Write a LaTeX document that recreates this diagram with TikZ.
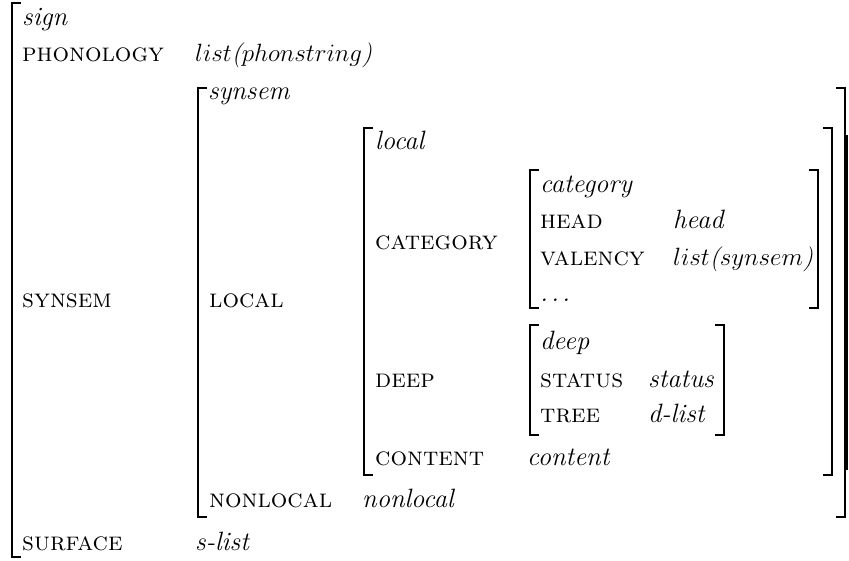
\RequirePackage{fix-cm}
\documentclass[tikz,border=0pt]{standalone}
\tikzset{
  attr/.style={anchor=base west, inner sep=0pt, font=\fontsize{26}{30}\selectfont\scshape},
  val/.style={anchor=base west, inner sep=0pt, font=\fontsize{26.5}{30}\selectfont\itshape},
  brk/.style={line width=2.4pt, line cap=butt, line join=miter},
}
\newcommand\LBrk[3]{\draw[brk] (#1+9,#2) -- (#1,#2) -- (#1,#3) -- (#1+9,#3);}
\newcommand\RBrk[3]{\draw[brk] (#1-9,#2) -- (#1,#2) -- (#1,#3) -- (#1-9,#3);}
\newcommand\listof[1]{\fontsize{25}{30}\selectfont$list$($#1$)}
\begin{document}
\begin{tikzpicture}[x=1pt,y=-1pt]
\useasboundingbox (0,0) rectangle (849,561);
% brackets
\LBrk{12}{3}{557}
\LBrk{198}{88}{517}
\RBrk{845}{88}{517}
\LBrk{364}{128}{475}
\RBrk{832}{128}{475}
\LBrk{530}{170}{308}
\RBrk{818}{170}{308}
\LBrk{530}{325}{435}
\RBrk{724}{325}{435}
\draw[brk] (847,135) -- (847,470);
% texts
\node[val] (sign) at (22,26) {sign};
\node[attr] (phon) at (22,62) {phonology};
\node[val] (phonv) at (195,62) {\listof{phonstring}};
\node[val] (synsemt) at (208,100) {synsem};
\node[val] (localt) at (375,150) {local};
\node[val] (catt) at (540,193) {category};
\node[attr] (head) at (540,229) {head};
\node[val] (headv) at (673,229) {head};
\node[attr] (valency) at (540,266) {valency};
\node[val] (valv) at (673,266) {\listof{synsem}};
\node[val] (dots) at (540,302) {.\kern3pt.\kern3pt.};
\node[attr] (cat) at (375,250) {category};
\node[attr] (synsem) at (22,308) {synsem};
\node[attr] (local) at (209,308) {local};
\node[val] (deept) at (540,350) {deep};
\node[attr] (status) at (540,388) {status};
\node[val] (statusv) at (648,388) {status};
\node[attr] (tree) at (540,422) {tree};
\node[val] (treev) at (648,422) {d-list};
\node[attr] (deep) at (375,388) {deep};
\node[attr] (content) at (375,465) {content};
\node[val] (contentv) at (527,465) {content};
\node[attr] (nonlocal) at (209,507) {nonlocal};
\node[val] (nonlocalv) at (362,507) {nonlocal};
\node[attr] (surface) at (22,550) {surface};
\node[val] (surfacev) at (195,550) {s-list};
\end{tikzpicture}
\end{document}
